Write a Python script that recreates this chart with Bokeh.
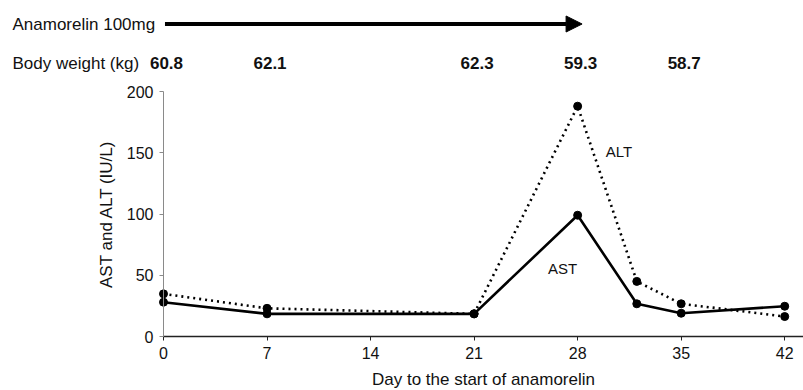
from bokeh.plotting import figure
from bokeh.models import Range1d, Label, Arrow, NormalHead, FixedTicker
from bokeh.embed import file_html
from bokeh.resources import INLINE

# ---- data ----
days = [0, 7, 21, 28, 32, 35, 42]
ast = [28, 18.5, 18.5, 99, 26.7, 19, 24.7]
alt = [34.8, 23, 18.5, 188, 45, 26.7, 16.3]
bw_days = [0, 7, 21, 28, 35]
bw_values = ["60.8", "62.1", "62.3", "59.3", "58.7"]
x_ticks = [0, 7, 14, 21, 28, 35, 42]
y_ticks = [0, 50, 100, 150, 200]
drug_start, drug_end = 0, 28.3
drug_label = "Anamorelin 100mg"
bw_label = "Body weight (kg)"

FONT = "Liberation Sans"
TXT = "#111111"

W, H = 803, 390
X0_PX, Y0_PX = 163, 336        # pixel of day 0 / value 0
X_END = 43.27                  # day at right edge
Y_TOP = 200                    # top of value axis
PXD = (W - X0_PX) / X_END      # px per day
PXY = (Y0_PX - 91) / Y_TOP     # px per IU/L

p = figure(width=W, height=H, output_backend="svg", toolbar_location=None,
           x_range=Range1d(-X0_PX / PXD, X_END),
           y_range=Range1d(-(H - Y0_PX) / PXY, Y0_PX / PXY),
           min_border_left=0, min_border_right=0, min_border_top=0, min_border_bottom=0)
p.outline_line_color = None
p.grid.visible = False
p.background_fill_color = "white"
p.border_fill_color = "white"

p.xaxis.fixed_location = 0
p.yaxis.fixed_location = 0
p.xaxis.bounds = (0, X_END)
p.yaxis.bounds = (0, Y_TOP)
p.xaxis.ticker = FixedTicker(ticks=x_ticks)
p.yaxis.ticker = FixedTicker(ticks=y_ticks)
p.xaxis.minor_tick_line_color = None
p.yaxis.minor_tick_line_color = None
for ax in (p.xaxis, p.yaxis):
    ax.major_tick_in = 0
    ax.major_tick_out = 4
    ax.major_label_text_font = FONT
    ax.major_label_text_font_size = "16px"
    ax.major_label_text_color = TXT
    ax.axis_label_text_font = FONT
    ax.axis_label_text_font_size = "17px"
    ax.axis_label_text_font_style = "normal"
    ax.axis_label_text_color = TXT
p.xaxis.axis_line_color = "#222222"
p.xaxis.major_tick_line_color = "#222222"
p.xaxis.axis_line_width = 1.5
p.yaxis.axis_line_color = "#8a8a8a"
p.yaxis.major_tick_line_color = "#8a8a8a"
p.xaxis.major_label_standoff = 6
p.yaxis.major_label_standoff = 6
p.xaxis.axis_label = "Day to the start of anamorelin"
p.yaxis.axis_label = "AST and ALT (IU/L)"
p.xaxis.axis_label_standoff = 8
p.yaxis.axis_label_standoff = 8

p.line(days, alt, line_color="black", line_width=2.6, line_dash="2 4")
p.scatter(days, alt, size=8, color="black")
p.line(days, ast, line_color="black", line_width=2.6)
p.scatter(days, ast, size=8, color="black")

p.add_layout(Label(x=29.9, y=151, text="ALT", text_font=FONT, text_font_size="15px",
                   text_baseline="middle", text_align="left", text_color=TXT))
p.add_layout(Label(x=26.0, y=55.5, text="AST", text_font=FONT, text_font_size="15px",
                   text_baseline="middle", text_align="left", text_color=TXT))

# header rows above the value axis
y_drug = (Y0_PX - 23.5) / PXY
y_bw = (Y0_PX - 62.5) / PXY
x_left_text = p.x_range.start + 12 / PXD

p.add_layout(Label(x=x_left_text, y=y_drug, text=drug_label, text_font=FONT,
                   text_font_size="17px", text_baseline="middle", text_align="left",
                   text_color=TXT))
p.add_layout(Arrow(x_start=drug_start + 0.1, y_start=y_drug, x_end=drug_end, y_end=y_drug,
                   line_width=4, line_color="black",
                   end=NormalHead(size=16, fill_color="black", line_color="black",
                                  line_width=1)))
p.add_layout(Label(x=x_left_text, y=y_bw, text=bw_label, text_font=FONT,
                   text_font_size="17px", text_baseline="middle", text_align="left",
                   text_color=TXT))
for d, v in zip(bw_days, bw_values):
    p.add_layout(Label(x=d, y=y_bw, x_offset=3, text=v, text_font=FONT,
                       text_font_size="17px", text_font_style="bold",
                       text_baseline="middle", text_align="center", text_color=TXT))

open("out.html", "w").write(file_html(p, INLINE))
